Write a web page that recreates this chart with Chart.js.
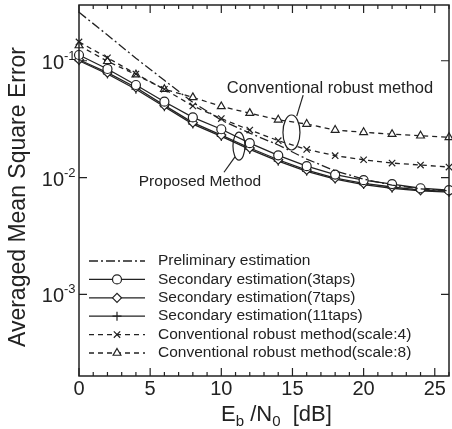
<!DOCTYPE html>
<html>
<head>
<meta charset="utf-8">
<script src="https://cdn.jsdelivr.net/npm/chart.js@4.4.0/dist/chart.umd.min.js"></script>
<style>
  html, body { margin: 0; padding: 0; background: #fff; }
</style>
</head>
<body>
<canvas id="mse-chart" width="452" height="429"></canvas>
<script>
// Eb/N0 (dB) sample points
const snr = [0, 2, 4, 6, 8, 10, 12, 14, 16, 18, 20, 22, 24, 26];

// averaged MSE
const preliminary = [0.26, 0.166, 0.105, 0.068, 0.044, 0.031, 0.024, 0.019, 0.0144, 0.0114, 0.0097, 0.0086, 0.0080, 0.0077];
const taps3  = [0.112, 0.085, 0.062, 0.0446, 0.0327, 0.0259, 0.0197, 0.0155, 0.0125, 0.0106, 0.0095, 0.0088, 0.0081, 0.0078];
const taps7  = [0.102, 0.079, 0.059, 0.0415, 0.0295, 0.0231, 0.0179, 0.0142, 0.0116, 0.0099, 0.0089, 0.0083, 0.0078, 0.0076];
const taps11 = [0.100, 0.077, 0.057, 0.0404, 0.0287, 0.0225, 0.0174, 0.0138, 0.0113, 0.0097, 0.0087, 0.0081, 0.0077, 0.0075];
const robust4 = [0.145, 0.106, 0.077, 0.057, 0.041, 0.032, 0.0255, 0.0207, 0.0174, 0.0154, 0.0142, 0.0133, 0.0128, 0.0123];
const robust8 = [0.135, 0.099, 0.076, 0.057, 0.0486, 0.0406, 0.0356, 0.0312, 0.0287, 0.0255, 0.0244, 0.0235, 0.0228, 0.0221];

const seriesLabels = [
    'Preliminary estimation',
    'Secondary estimation(3taps)',
    'Secondary estimation(7taps)',
    'Secondary estimation(11taps)',
    'Conventional robust method(scale:4)',
    'Conventional robust method(scale:8)'
];

const xTickLabels = [0, 5, 10, 15, 20, 25];
const yTickExponents = [-1, -2, -3];

const FONT = '"Liberation Sans", Arial, Helvetica, sans-serif';
const INK = '#222';

function series(label, data, style, dash) {
    return {
        label,
        data: snr.map((x, i) => ({ x, y: data[i] })),
        borderColor: INK,
        borderWidth: 1.3,
        borderDash: dash,
        pointStyle: style || 'circle',
        pointRadius: style ? 4.5 : 0,
        pointHoverRadius: style ? 4.5 : 0,
        pointBackgroundColor: '#fff',
        pointBorderColor: INK,
        pointBorderWidth: 1.2,
        fill: false,
        tension: 0,
        clip: false
    };
}

const datasets = [
    series(seriesLabels[0], preliminary, null, [9, 3, 2, 3]),
    series(seriesLabels[1], taps3, 'circle', []),
    series(seriesLabels[2], taps7, 'rectRot', []),
    series(seriesLabels[3], taps11, 'cross', []),
    series(seriesLabels[4], robust4, 'crossRot', [5, 4]),
    series(seriesLabels[5], robust8, 'triangle', [5, 4])
];

// frame, inward ticks, labels, annotations and legend
const decorations = {
    id: 'decorations',
    afterDraw(chart) {
        const ctx = chart.ctx;
        const a = chart.chartArea;
        const xs = chart.scales.x;
        const ys = chart.scales.y;
        ctx.save();

        // frame
        ctx.strokeStyle = INK;
        ctx.lineWidth = 1.5;
        ctx.strokeRect(a.left, a.top, a.right - a.left, a.bottom - a.top);

        // x ticks (minor every 1 dB)
        ctx.lineWidth = 1.2;
        ctx.beginPath();
        for (let v = 0; v <= 26; v++) {
            const px = xs.getPixelForValue(v);
            const len = v % 5 === 0 ? 8 : 4;
            ctx.moveTo(px, a.bottom); ctx.lineTo(px, a.bottom - len);
            ctx.moveTo(px, a.top); ctx.lineTo(px, a.top + len);
        }
        yTickExponents.forEach(e => {
            const py = ys.getPixelForValue(Math.pow(10, e));
            ctx.moveTo(a.left, py); ctx.lineTo(a.left + 8, py);
            ctx.moveTo(a.right, py); ctx.lineTo(a.right - 8, py);
        });
        ctx.stroke();

        // tick labels
        ctx.fillStyle = INK;
        ctx.font = '20px ' + FONT;
        ctx.textAlign = 'center';
        ctx.textBaseline = 'middle';
        xTickLabels.forEach(v => ctx.fillText(String(v), xs.getPixelForValue(v), a.bottom + 13));

        ctx.textBaseline = 'alphabetic';
        yTickExponents.forEach(e => {
            const py = ys.getPixelForValue(Math.pow(10, e));
            ctx.font = '20px ' + FONT;
            ctx.textAlign = 'right';
            ctx.fillText('10', a.left - 15, py + 8);
            ctx.font = '13px ' + FONT;
            ctx.textAlign = 'left';
            ctx.fillText(String(e), a.left - 15, py - 1);
        });

        // y title
        ctx.save();
        ctx.translate(19, 197);
        ctx.rotate(-Math.PI / 2);
        ctx.font = '23px ' + FONT;
        ctx.textAlign = 'center';
        ctx.textBaseline = 'middle';
        ctx.fillText('Averaged Mean Square Error', 0, 0);
        ctx.restore();

        // x title with subscripts
        const parts = [['E', 22, 0], ['b', 15, 5], [' /N', 22, 0], ['0', 15, 5], ['  [dB]', 22, 0]];
        let tx = 221;
        ctx.textAlign = 'left';
        parts.forEach(([t, size, dy]) => {
            ctx.font = size + 'px ' + FONT;
            ctx.fillText(t, tx, 421 + dy);
            tx += ctx.measureText(t).width;
        });

        // annotations (placed in data coordinates)
        const P = (x, y) => [xs.getPixelForValue(x), ys.getPixelForValue(y)];
        ctx.lineWidth = 1.2;
        ctx.strokeStyle = INK;
        let [cx, cy] = P(14.93, 0.0243);
        ctx.beginPath(); ctx.ellipse(cx, cy, 8.5, 17.5, 0, 0, Math.PI * 2); ctx.stroke();
        let [x1, y1] = P(15.3, 0.0336), [x2, y2] = P(15.75, 0.0508);
        ctx.beginPath(); ctx.moveTo(x1, y1); ctx.lineTo(x2, y2); ctx.stroke();

        [cx, cy] = P(11.24, 0.0186);
        ctx.beginPath(); ctx.ellipse(cx, cy, 6, 14, 0, 0, Math.PI * 2); ctx.stroke();
        [x1, y1] = P(10.96, 0.015); [x2, y2] = P(10.19, 0.0111);
        ctx.beginPath(); ctx.moveTo(x1, y1); ctx.lineTo(x2, y2); ctx.stroke();

        ctx.textAlign = 'center';
        ctx.textBaseline = 'middle';
        ctx.font = '16.5px ' + FONT;
        [cx, cy] = P(17.64, 0.0583);
        ctx.fillText('Conventional robust method', cx, cy);
        ctx.font = '15.5px ' + FONT;
        [cx, cy] = P(8.5, 0.00914);
        ctx.fillText('Proposed Method', cx, cy);

        // legend
        ctx.textAlign = 'left';
        ctx.font = '15.5px ' + FONT;
        chart.data.datasets.forEach((ds, i) => {
            const ly = 261 + i * 18.4;
            ctx.strokeStyle = INK;
            ctx.lineWidth = ds.borderWidth;
            ctx.setLineDash(ds.borderDash || []);
            ctx.beginPath(); ctx.moveTo(89, ly); ctx.lineTo(145, ly); ctx.stroke();
            ctx.setLineDash([]);
            if (ds.pointRadius > 0) {
                ctx.fillStyle = '#fff';
                ctx.lineWidth = ds.pointBorderWidth;
                Chart.helpers.drawPoint(ctx, {
                    pointStyle: ds.pointStyle, radius: ds.pointRadius,
                    rotation: 0, borderWidth: ds.pointBorderWidth
                }, 117, ly);
            }
            ctx.fillStyle = INK;
            ctx.fillText(ds.label, 158, ly);
        });

        ctx.restore();
    }
};

new Chart(document.getElementById('mse-chart').getContext('2d'), {
    type: 'line',
    data: { datasets },
    options: {
        responsive: false,
        animation: false,
        devicePixelRatio: 1,
        layout: { autoPadding: false, padding: { top: 5, right: 3, left: 0, bottom: 0 } },
        plugins: { legend: { display: false }, tooltip: { enabled: false } },
        scales: {
            x: {
                type: 'linear', min: 0, max: 26,
                ticks: { display: false },
                grid: { display: false },
                border: { display: false },
                afterFit: s => { s.height = 53; }
            },
            y: {
                type: 'logarithmic', min: 2e-4, max: 0.3,
                ticks: { display: false },
                grid: { display: false },
                border: { display: false },
                afterFit: s => { s.width = 79; }
            }
        }
    },
    plugins: [decorations]
});
</script>
</body>
</html>
